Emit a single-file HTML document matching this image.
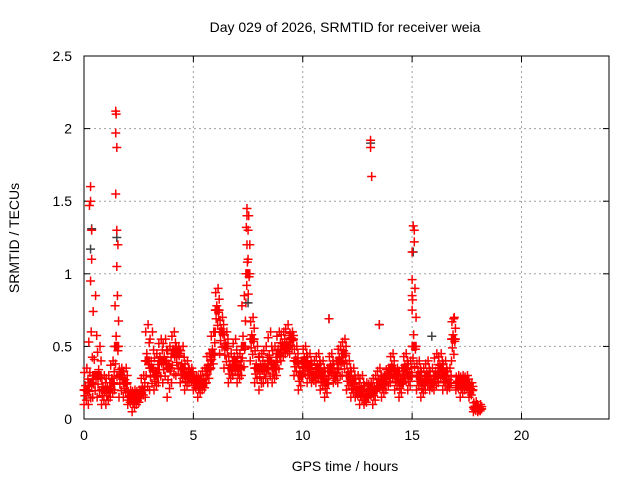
<!DOCTYPE html>
<html><head><meta charset="utf-8"><style>
body{margin:0;background:#fff}
svg{display:block;font-family:"Liberation Sans",sans-serif}
</style></head><body>
<svg id="chart" width="640" height="480" viewBox="0 0 640 480">
<text x="345" y="32" font-size="14" text-anchor="middle">Day 029 of 2026, SRMTID for receiver weia</text>
<text x="345" y="471" font-size="14" text-anchor="middle">GPS time / hours</text>
<text transform="translate(19,238) rotate(-90)" font-size="14" text-anchor="middle">SRMTID / TECUs</text>
<g id="grid"></g>
<g id="axes"></g>
<g id="marks"></g>
</svg>
<script>
const times=[0,0.2,0.4,0.6,0.8,1.0,1.2,1.4,1.6,1.8,2.0,2.2,2.4,2.6,2.8,3.0,3.2,3.4,3.6,3.8,4.0,4.2,4.4,4.6,4.8,5.0,5.2,5.4,5.6,5.8,6.0,6.2,6.4,6.6,6.8,7.0,7.2,7.4,7.6,7.8,8.0,8.2,8.4,8.6,8.8,9.0,9.2,9.4,9.6,9.8,10.0,10.2,10.4,10.6,10.8,11.0,11.2,11.4,11.6,11.8,12.0,12.2,12.4,12.6,12.8,13.0,13.2,13.4,13.6,13.8,14.0,14.2,14.4,14.6,14.8,15.0,15.2,15.4,15.6,15.8,16.0,16.2,16.4,16.6,16.8,17.0,17.2,17.4,17.6,17.8,18.0];
const lowVals=[0.1,0.1,0.15,0.15,0.1,0.1,0.15,0.2,0.15,0.15,0.1,0.05,0.1,0.15,0.15,0.2,0.2,0.25,0.25,0.15,0.25,0.3,0.25,0.2,0.25,0.2,0.15,0.2,0.25,0.35,0.6,0.45,0.35,0.25,0.3,0.25,0.3,0.8,0.4,0.25,0.2,0.25,0.25,0.25,0.3,0.4,0.45,0.45,0.3,0.2,0.3,0.25,0.25,0.25,0.2,0.15,0.3,0.25,0.25,0.3,0.2,0.15,0.15,0.1,0.1,0.15,0.1,0.2,0.15,0.2,0.25,0.2,0.15,0.25,0.2,0.3,0.2,0.15,0.2,0.2,0.2,0.25,0.2,0.2,0.4,0.2,0.15,0.2,0.15,0.05,0.05];
const midVals=[0.2,0.25,0.3,0.3,0.2,0.2,0.25,0.5,0.3,0.25,0.15,0.15,0.15,0.2,0.4,0.35,0.3,0.4,0.4,0.35,0.45,0.45,0.35,0.3,0.3,0.25,0.25,0.25,0.35,0.45,0.75,0.6,0.5,0.35,0.4,0.35,0.5,1.0,0.55,0.35,0.35,0.35,0.4,0.35,0.45,0.5,0.5,0.55,0.4,0.3,0.4,0.35,0.3,0.35,0.3,0.25,0.35,0.3,0.4,0.45,0.3,0.25,0.2,0.2,0.15,0.2,0.2,0.25,0.25,0.3,0.35,0.3,0.25,0.35,0.3,0.5,0.3,0.25,0.3,0.25,0.3,0.35,0.3,0.25,0.55,0.25,0.25,0.25,0.2,0.08,0.07];
const highVals=[0.35,0.6,0.85,0.5,0.3,0.3,0.4,0.85,0.35,0.35,0.2,0.2,0.2,0.3,0.65,0.6,0.45,0.55,0.55,0.5,0.6,0.5,0.5,0.4,0.35,0.3,0.3,0.35,0.45,0.6,0.9,0.7,0.6,0.45,0.55,0.45,0.85,1.4,0.7,0.5,0.45,0.5,0.6,0.5,0.6,0.6,0.65,0.6,0.5,0.4,0.5,0.45,0.4,0.45,0.4,0.35,0.45,0.4,0.5,0.55,0.4,0.35,0.3,0.3,0.25,0.25,0.3,0.35,0.3,0.35,0.45,0.35,0.35,0.45,0.4,0.9,0.4,0.35,0.4,0.35,0.45,0.45,0.4,0.35,0.7,0.3,0.3,0.3,0.25,0.12,0.1];
const spikeTimes=[0.3,0.3,0.25,0.35,0.35,0.3,1.45,1.47,1.45,1.5,1.45,1.5,1.55,1.5,7.45,7.45,7.5,7.45,7.5,13.1,13.1,13.15,15.05,15.1,15.1,15.0,15.0,15.0,15.0,11.2,13.5,16.9];
const spikeVals=[1.6,1.5,1.47,1.3,1.1,0.95,2.12,2.1,1.97,1.87,1.55,1.3,1.2,1.05,1.45,1.4,1.3,1.2,1.1,1.92,1.87,1.67,1.33,1.3,1.22,1.15,0.96,0.85,0.75,0.69,0.65,0.69];
const blackTimes=[0.3,0.35,1.5,7.5,11.2,13.1,13.5,15.05,15.9];
const blackVals=[1.17,1.31,1.25,0.8,0.69,1.9,0.65,1.15,0.57];
const xTicks=[0,5,10,15,20];
const yTicks=[0,0.5,1,1.5,2,2.5];
const yTickLabels=["0","0.5","1","1.5","2","2.5"];

const L=84,R=609,T=56,B=419,XMAX=24,YMAX=2.5;
const xs=v=>L+(R-L)*v/XMAX, ys=v=>B-(B-T)*v/YMAX;
const NS="http://www.w3.org/2000/svg";
function mk(tag,parent,attrs){const e=document.createElementNS(NS,tag);for(const k in attrs)e.setAttribute(k,attrs[k]);parent.appendChild(e);return e;}
const grid=document.getElementById('grid'),axes=document.getElementById('axes'),marks=document.getElementById('marks');
xTicks.forEach(t=>{
  const x=xs(t);
  if(t>0){const g=mk('line',grid,{x1:x,x2:x,y1:T,y2:B,stroke:'#a0a0a0','stroke-dasharray':'2,3'});
  
  }
  mk('line',axes,{x1:x,x2:x,y1:B,y2:B-6,stroke:'#000'});
  mk('line',axes,{x1:x,x2:x,y1:T,y2:T+6,stroke:'#000'});
  const tx=mk('text',axes,{x:x,y:B+21,'font-size':14,'text-anchor':'middle'});tx.textContent=t;
  
  
});
yTicks.forEach((t,i)=>{
  const y=ys(t);
  if(t>0&&t<YMAX){const g=mk('line',grid,{x1:L,x2:R,y1:y,y2:y,stroke:'#a0a0a0','stroke-dasharray':'2,3'});
  
  }
  mk('line',axes,{x1:L,x2:L+6,y1:y,y2:y,stroke:'#000'});
  mk('line',axes,{x1:R,x2:R-6,y1:y,y2:y,stroke:'#000'});
  const tx=mk('text',axes,{x:L-12,y:y+5,'font-size':14,'text-anchor':'end'});tx.textContent=yTickLabels[i];
  
  
});
mk('rect',axes,{x:L,y:T,width:R-L,height:B-T,fill:'none',stroke:'#000'});
function plus(t,v,color){
  const x=xs(t),y=ys(v);
  const p=mk('path',marks,{d:`M${x-4.5},${y}H${x+4.5}M${x},${y-4.5}V${y+4.5}`,stroke:color,'stroke-width':1.5,fill:'none'});
  
  
}
const fr=[0,0.15,0.3,0.45,0.6,0.75,0.9,1];
const toff=[0.0,0.11,0.04,0.15,0.07,0.18,0.02,0.13];
times.forEach((t,i)=>{
  fr.forEach((f,k)=>{
    const a=lowVals[i],m=midVals[i],h=highVals[i];
    const v=f<0.5? a+(m-a)*f*2 : m+(h-m)*(f-0.5)*2;
    plus(t+toff[k],v,'#ff0000');
    plus(t+toff[(k+3)%8],m,'#ff0000');
  });
});
blackTimes.forEach((t,i)=>plus(t,blackVals[i],'#404040'));
spikeTimes.forEach((t,i)=>plus(t,spikeVals[i],'#ff0000'));
</script>
</body></html>
